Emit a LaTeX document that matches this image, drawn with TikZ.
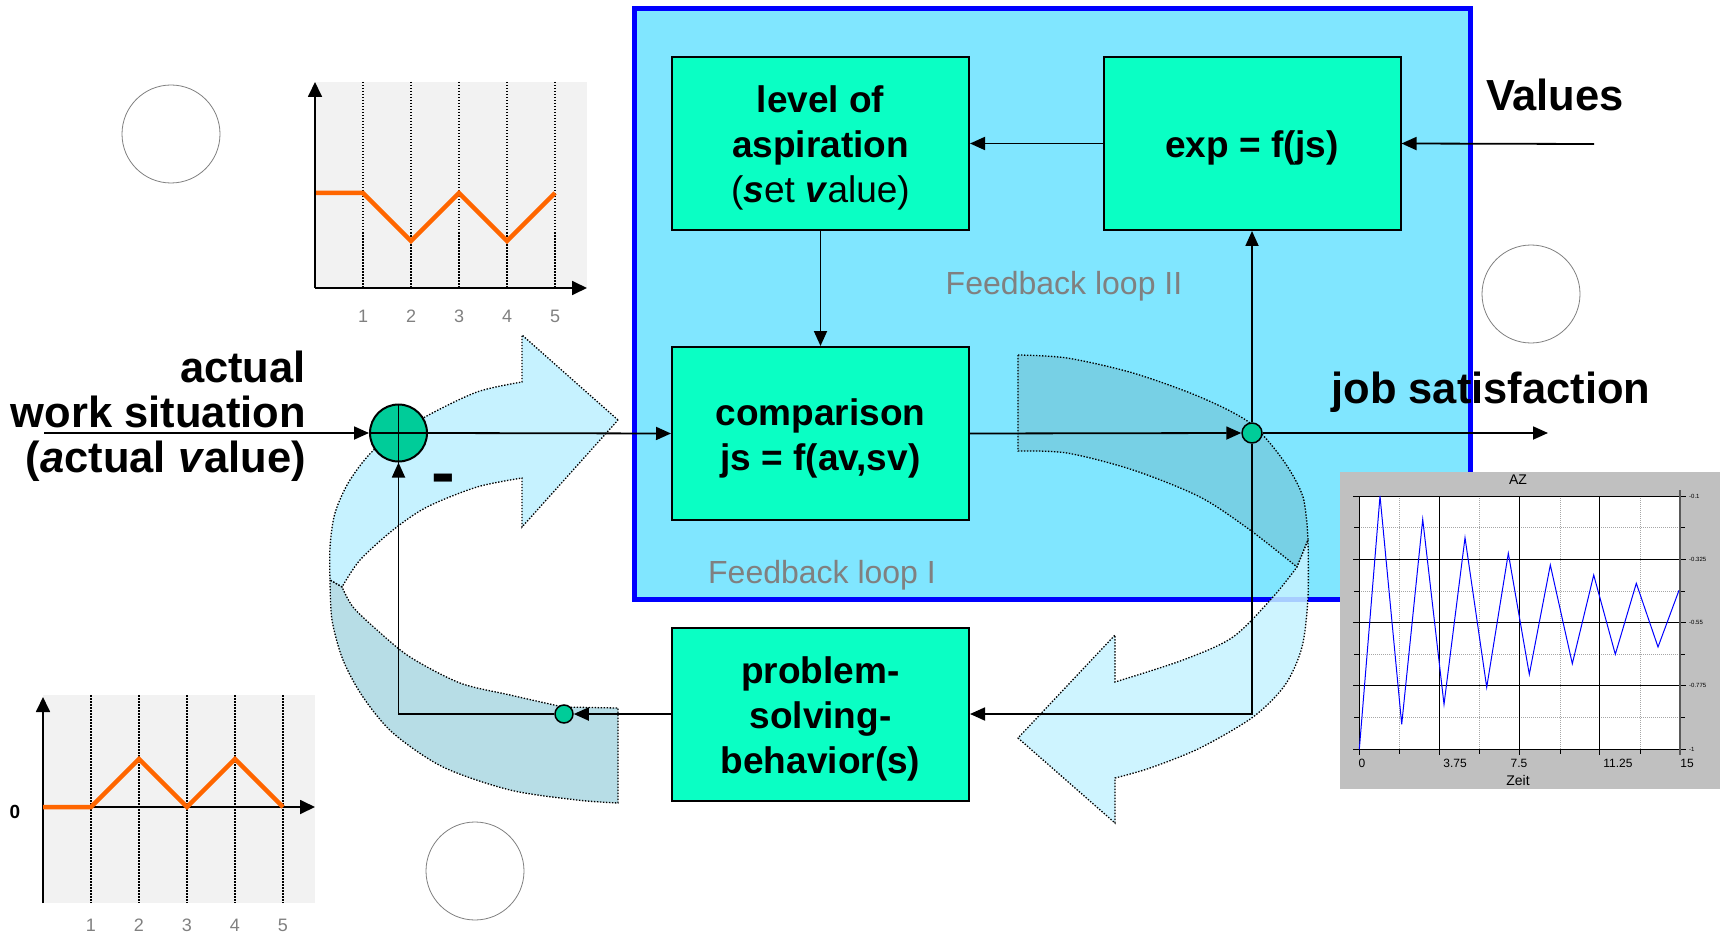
\documentclass[tikz,border=0pt]{standalone}
\usepackage{fontspec}
\usepackage{graphicx}
\setmainfont{Liberation Sans}
\usetikzlibrary{arrows.meta,shapes.geometric}
\definecolor{boxcyan}{HTML}{80E6FF}
\definecolor{boxblue}{HTML}{0000FF}
\definecolor{greenbox}{HTML}{0AFFC4}
\definecolor{sumgreen}{HTML}{00CC99}
\definecolor{arrowlight}{HTML}{C6F2FF}
\definecolor{arrowdark}{RGB}{112,187,205}
\definecolor{chartbg}{HTML}{F2F2F2}
\definecolor{orangeline}{HTML}{FF6600}
\definecolor{labelgray}{HTML}{808080}
\definecolor{azbg}{HTML}{C0C0C0}
\newcommand\bxfnt{\bfseries\fontsize{37}{45}\selectfont}
\newcommand\bigfnt{\bfseries\fontsize{43.5}{45}\selectfont}
\tikzset{
  block/.style={draw=black, line width=2pt, fill=greenbox, minimum width=297pt, minimum height=173pt, inner sep=0pt},
  boxtext/.style={align=center, font=\bxfnt, inner sep=0pt},
  conn/.style={line width=1.8pt, -{Triangle[length=15pt,width=13pt]}},
  band/.style={draw=black, line width=1.3pt, dash pattern=on 1.4pt off 1.6pt},
  axisarrow/.style={line width=1.8pt, -{Triangle[length=15pt,width=14pt]}},
  gridv/.style={line width=1.2pt, dash pattern=on 1.5pt off 1.5pt},
  curve/.style={orangeline, line width=4.5pt},
  ticklab/.style={labelgray, font=\fontsize{18}{18}\selectfont},
  ghost/.style={draw=labelgray, line width=0.8pt},
  fbl/.style={labelgray, font=\fontsize{32}{32}\selectfont},
  dot/.style={draw=black, line width=1.5pt, fill=sumgreen, inner sep=0pt}
}
\begin{document}
\begin{tikzpicture}[x=1pt,y=-1pt]
\useasboundingbox (0,0) rectangle (1720,933);

% placeholder circles
\draw[ghost] (171,134) circle (49);
\draw[ghost] (1531,294) circle (49);
\draw[ghost] (475,871) circle (49);

% top chart
\fill[chartbg] (315,82) rectangle (587,288);
\foreach \x in {363,411,459,507,555} \draw[gridv] (\x,82) -- (\x,288);
\draw[curve] (315,193) -- (363,193) -- (411,241) -- (459,193) -- (507,241) -- (555,193);
\draw[axisarrow] (315,288) -- (315,82);
\draw[axisarrow] (315,288) -- (587,288);
\foreach \x/\n in {363/1,411/2,459/3,507/4,555/5} \node[ticklab] at (\x,316) {\n};

% bottom chart
\fill[chartbg] (43,695) rectangle (315,903);
\foreach \x in {91,139,187,235,283} \draw[gridv] (\x,695) -- (\x,903);
\draw[axisarrow] (43,903) -- (43,697);
\draw[axisarrow] (43,807) -- (315,807);
\draw[curve] (43,807) -- (91,807) -- (139,759) -- (187,807) -- (235,759) -- (283,807);
\foreach \x/\n in {91/1,139/2,187/3,235/4,283/5} \node[ticklab] at (\x,925) {\n};
\node[font=\bfseries\fontsize{19}{19}\selectfont] at (15,812) {0};

% blue system box
\draw[draw=boxblue, line width=5pt, fill=boxcyan] (634,9) rectangle (1470,599);
\node[fbl] (fb2) at (1064,286) {Feedback loop II};
\node[fbl] (fb1) at (822,575) {Feedback loop I};

% AZ chart (on top of the box corner)
\fill[azbg] (1340,472) rectangle (1720,789);
\fill[white] (1359,496) rectangle (1680,749);
\foreach \y in {527.6,590.9,654.1,717.4} {
  \draw[gray!70, dash pattern=on 1pt off 1pt, line width=0.6pt] (1359,\y) -- (1680,\y);
  \draw[black, line width=0.7pt] (1354,\y) -- (1359,\y);
  \draw[black, line width=0.7pt] (1680,\y) -- (1685,\y);
}
\foreach \x in {1399,1479,1560,1640} {
  \draw[gray!70, dash pattern=on 1pt off 1pt, line width=0.6pt] (\x,496) -- (\x,749);
  \draw[black, line width=0.7pt] (\x,749) -- (\x,754);
}
\foreach \y in {496,559.25,622.5,685.75,749} \draw[black, line width=0.8pt] (1353,\y) -- (1686,\y);
\foreach \x in {1359,1439.25,1519.5,1599.75} \draw[black, line width=0.8pt] (\x,496) -- (\x,755);
\draw[black!65, line width=2pt] (1680,490) -- (1680,755);
\draw[blue, line width=1pt] plot coordinates {(1359.3,749.3) (1380,496) (1401.7,724.3) (1422.7,519.3) (1444,704.3) (1465,537.7) (1486.7,687.3) (1508.3,553.3) (1529.3,674.3) (1550.3,565) (1572.3,663.7) (1593.7,575) (1615.3,654.3) (1636.3,583.3) (1658,647) (1679,590.3)};
\node[font=\fontsize{14}{14}\selectfont] at (1518,480) {AZ};
\node[font=\fontsize{14}{14}\selectfont] at (1518,780) {Zeit};
\foreach \x/\t in {1362/0,1455/3.75,1519/7.5,1618/11.25,1687/15} \node[font=\fontsize{12}{12}\selectfont] at (\x,763) {\t};
\foreach \y/\t in {496/-0.1,559.25/-0.325,622.5/-0.55,685.75/-0.775,749/-1} \node[anchor=west, inner sep=0pt, font=\fontsize{6}{6}\selectfont] at (1689,\y) {\t};

% left curved arrow
\filldraw[band, fill=arrowlight] (618,420) -- (522,335) -- (522,382)
  -- plot[smooth] coordinates {(522,382) (477,392) (425,417) (377,447) (350,480) (335,513) (330,547) (330,580)}
  -- (342,587)
  -- plot[smooth] coordinates {(342,587) (360,560) (393,530) (427,507) (477,487) (522,478)}
  -- (522,527) -- cycle;
\filldraw[band, fill=arrowdark, fill opacity=0.5] (330,580)
  -- plot[smooth] coordinates {(330,580) (332,620) (343,660) (363,697) (393,733) (443,767) (510,790) (577,800) (618,803)}
  -- (618,708) -- (563,707)
  -- plot[smooth] coordinates {(563,707) (510,695) (460,683) (410,657) (377,630) (353,607) (342,587)}
  -- cycle;

% right curved arrow
\filldraw[band, fill=arrowdark, fill opacity=0.5] (1018,355)
  -- plot[smooth] coordinates {(1018,355) (1067,358) (1133,373) (1200,397) (1250,423) (1283,460) (1303,497) (1308,540)}
  -- (1297,567)
  -- plot[smooth] coordinates {(1297,567) (1250,530) (1200,497) (1133,470) (1067,453) (1018,451)}
  -- cycle;
\filldraw[band, fill=arrowlight, fill opacity=0.85] (1308,540)
  -- plot[smooth] coordinates {(1308,540) (1308,597) (1302,647) (1285,685) (1253,717) (1200,748) (1150,768) (1115,778)}
  -- (1115,823) -- (1018,738) -- (1115,635) -- (1115,682)
  -- plot[smooth] coordinates {(1115,682) (1183,660) (1233,637) (1273,597) (1297,567)}
  -- cycle;

% blocks
\node[block] (lvl) at (820.5,143.5) {};
\node[block] (exp) at (1252,143.5) {};
\node[block] (cmp) at (820.5,433.5) {};
\node[block] (psb) at (820.5,714) {};
\node[boxtext] (lvlt) at ([yshift=-4.5pt]lvl.center) {level of\\aspiration\\{\mdseries(\textbf{\textit{s}}et \textbf{\textit{v}}alue)}};
\node[boxtext] (expt) at ([yshift=-4.5pt]exp.center) {exp = f(js)};
\node[boxtext] (cmpt) at ([yshift=-4.5pt]cmp.center) {comparison\\js = f(av,sv)};
\node[boxtext] (psbt) at ([yshift=-4.5pt]psb.center) {problem-\\solving-\\behavior(s)};

\node[circle, draw=black, line width=2pt, fill=sumgreen, minimum size=57pt, inner sep=0pt] (sum) at (398.5,433) {};
\draw[line width=1.8pt] (sum.north) -- (sum.south);
\draw[line width=1.8pt] (sum.west) -- (sum.east);
\node[dot, circle, minimum size=20pt] (jn) at (1252,433) {};
\node[dot, circle, minimum size=18pt] (sd) at (564,714) {};

\coordinate (inp) at (44,433);
\coordinate (out) at (1548,433);
\coordinate (val) at (1594,144);

% connectors
\draw[conn] (inp) -- (sum.west);
\draw[conn] (sum.east) -- (cmp.west);
\draw[conn] (cmp.east) -- (jn.west);
\draw[conn] (jn.east) -- (out);
\draw[conn] (jn.north) -- (exp.south);
\draw[conn] (jn.south) |- (psb.east);
\draw[conn] (psb.west) -- (sd.east);
\draw[conn] (sd.west) -| (sum.south);
\draw[conn] (lvl.south) -- (cmp.north);
\draw[conn] (exp.west) -- (lvl.east);
\draw[conn] (val) -- (exp.east);

% labels
\node[anchor=east, align=right, font=\bigfnt, inner sep=0pt] (inlab) at (306,416) {actual\\work situation\\(\textit{a}ctual \textit{v}alue)};
\node[anchor=base, font=\bfseries\fontsize{42}{45}\selectfont, inner sep=0pt] (minus) at (443.5,495) {\scalebox{1.7}[1.6]{-}};
\node[font=\bigfnt] (vals) at (1555,95) {Values};
\node[font=\bigfnt] (jsat) at (1491,392) {job satisfaction};
\end{tikzpicture}
\end{document}
